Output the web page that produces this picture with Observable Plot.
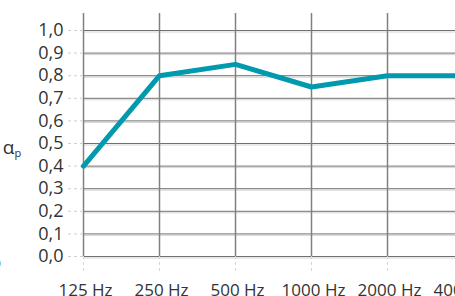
<!DOCTYPE html>
<html>
<head>
<meta charset="utf-8">
<script src="https://cdn.jsdelivr.net/npm/d3@7"></script>
<script src="https://cdn.jsdelivr.net/npm/@observablehq/plot@0.6"></script>
<style>
  html, body { margin: 0; padding: 0; background: #fff; overflow: hidden; }
  #chart { width: 455px; height: 296px; overflow: hidden; }
</style>
</head>
<body>
<div id="chart"></div>
<script>
const categories = ["125 Hz", "250 Hz", "500 Hz", "1000 Hz", "2000 Hz", "4000 Hz"];
const values = [0.40, 0.80, 0.85, 0.75, 0.80, 0.80];
const yTicks = [0, 0.1, 0.2, 0.3, 0.4, 0.5, 0.6, 0.7, 0.8, 0.9, 1.0];

const data = categories.map((c, i) => ({freq: c, value: values[i]}));
const fmt = d => d3.format(".1f")(d).replace(".", ",");
const font = "'Open Sans', 'Noto Sans', sans-serif";

const plot = Plot.plot({
  width: 455,
  height: 296,
  marginLeft: 83,
  marginRight: 0,
  marginTop: 13,
  marginBottom: 40,
  style: {fontFamily: font, fontSize: "16px", color: "#333", background: "#fff", overflow: "hidden"},
  x: {type: "point", domain: categories, range: [83, 463], padding: 0, label: null},
  y: {domain: [0, 1], range: [256, 30], label: null},
  marks: [
    Plot.ruleY(yTicks, {stroke: "#d4d4d4", strokeWidth: 1, dy: 1.5}),
    Plot.ruleY(yTicks, {stroke: "#707070", strokeWidth: 1}),
    Plot.ruleX(categories, {x: d => d, stroke: "#808080", strokeWidth: 1.5}),
    Plot.axisY({ticks: yTicks, tickSize: 16, text: null, label: null, stroke: "#cfcfcf", strokeDasharray: "3,3", strokeWidth: 1}),
    Plot.axisY({ticks: yTicks, tickSize: 0, tickPadding: 20, tickFormat: fmt, label: null, fill: "#333", fontSize: 18}),
    Plot.axisX({tickSize: 16, text: null, label: null, stroke: "#d6d6d6", strokeDasharray: "3,3", strokeWidth: 1}),
    Plot.axisX({tickSize: 0, tickPadding: 27, dx: 2, fill: "#333", fontSize: 17, label: null}),
    Plot.line(data, {x: "freq", y: "value", stroke: "#0099ad", strokeWidth: 5, strokeLinejoin: "miter"})
  ]
});

document.getElementById("chart").append(plot);

const svg = d3.select(plot);
const lab = svg.append("text")
  .attr("x", 12).attr("y", 154)
  .attr("font-family", font).attr("fill", "#333");
lab.append("tspan").attr("font-size", "19px").text("α");
lab.append("tspan").attr("font-size", "11px").attr("dy", "3").text("p");

svg.append("text")
  .attr("x", -4).attr("y", 268)
  .attr("font-family", font).attr("font-size", "17px").attr("fill", "#333")
  .text("o");
</script>
</body>
</html>
